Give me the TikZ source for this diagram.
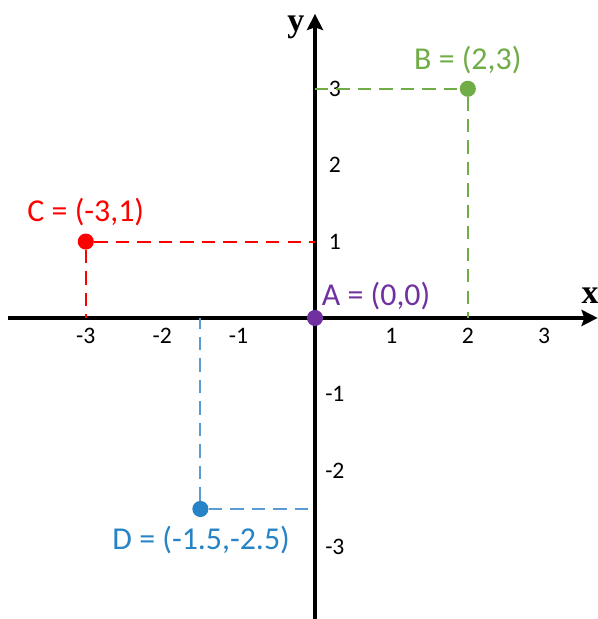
\documentclass[tikz,border=0pt]{standalone}
\usepackage{fontspec}
\setmainfont{Carlito}
\newfontfamily\axisfont{Liberation Serif}
\usetikzlibrary{arrows.meta}

\definecolor{ptgreen}{HTML}{70AD47}
\definecolor{ptred}{HTML}{FF0000}
\definecolor{ptpurple}{HTML}{7030A0}
\definecolor{ptblue}{HTML}{2683C6}
\definecolor{dashblue}{HTML}{5B9BD5}

\begin{document}
\begin{tikzpicture}[x=1.5cm,y=1.5cm,>={Stealth[length=9pt,width=9pt,inset=1.5pt]}]
  \tikzstyle{dot}=[circle, inner sep=0pt, minimum size=9pt]
  \tikzstyle{ptlabel}=[font=\fontsize{17.8}{21}\selectfont, inner sep=1pt]
  \tikzstyle{ticklbl}=[font=\fontsize{13.2}{15}\selectfont, inner sep=1pt]
  \tikzstyle{guide}=[line width=1.1pt, dash pattern=on 7.5pt off 4.5pt]

  \useasboundingbox[fill=white] (-4.123,-3.94) rectangle (3.704,4.162);

  % Axes
  \coordinate (xmin) at (-4.02,0);
  \coordinate (xmax) at (3.70,0);
  \coordinate (ymin) at (0,-3.94);
  \coordinate (ymax) at (0,3.98);
  \draw[->, line width=2.2pt] (xmin) -- (xmax);
  \draw[->, line width=2.2pt] (ymin) -- (ymax);
  \node[font=\axisfont\bfseries\fontsize{19}{22}\selectfont] (xlabel) at (3.60,0.29) {x};
  \node[font=\axisfont\bfseries\fontsize{19}{22}\selectfont] (ylabel) at (-0.25,3.80) {y};

  % Tick labels
  \foreach \t in {-3,-2,-1,1,2,3} {
    \node[ticklbl] (xt\t) at (\t,-0.24) {\t};
    \node[ticklbl] (yt\t) at (0.26,\t) {\t};
  }

  % Foot points on the axes
  \coordinate (Bx) at (2,0);
  \coordinate (By) at (0,3);
  \coordinate (Cx) at (-3,0);
  \coordinate (Cy) at (0,1);
  \coordinate (Dx) at (-1.5,0);
  \coordinate (Dy) at (0,-2.5);

  % Points
  \node[dot, fill=ptgreen] (B) at (2,3) {};
  \node[dot, fill=ptred] (C) at (-3,1) {};
  \node[dot, fill=ptblue] (D) at (-1.5,-2.5) {};

  % Guides
  \draw[guide, ptgreen] (By) -- (B);
  \draw[guide, ptgreen] (B) -- (Bx);
  \draw[guide, ptred] (C) -- (Cy);
  \draw[guide, ptred] (C) -- (Cx);
  \draw[guide, dashblue] (D) -- (Dy);
  \draw[guide, dashblue] (D) -- (Dx);

  \node[dot, fill=ptpurple] (A) at (0,0) {};

  % Labels
  \node[ptlabel, text=ptgreen] (Blabel) at (2.0,3.37) {B = (2,3)};
  \node[ptlabel, text=ptred] (Clabel) at (-3.0,1.38) {C = (-3,1)};
  \node[ptlabel, text=ptpurple] (Alabel) at (0.80,0.29) {A = (0,0)};
  \node[ptlabel, text=ptblue] (Dlabel) at (-1.49,-2.91) {D = (-1.5,-2.5)};
\end{tikzpicture}
\end{document}
